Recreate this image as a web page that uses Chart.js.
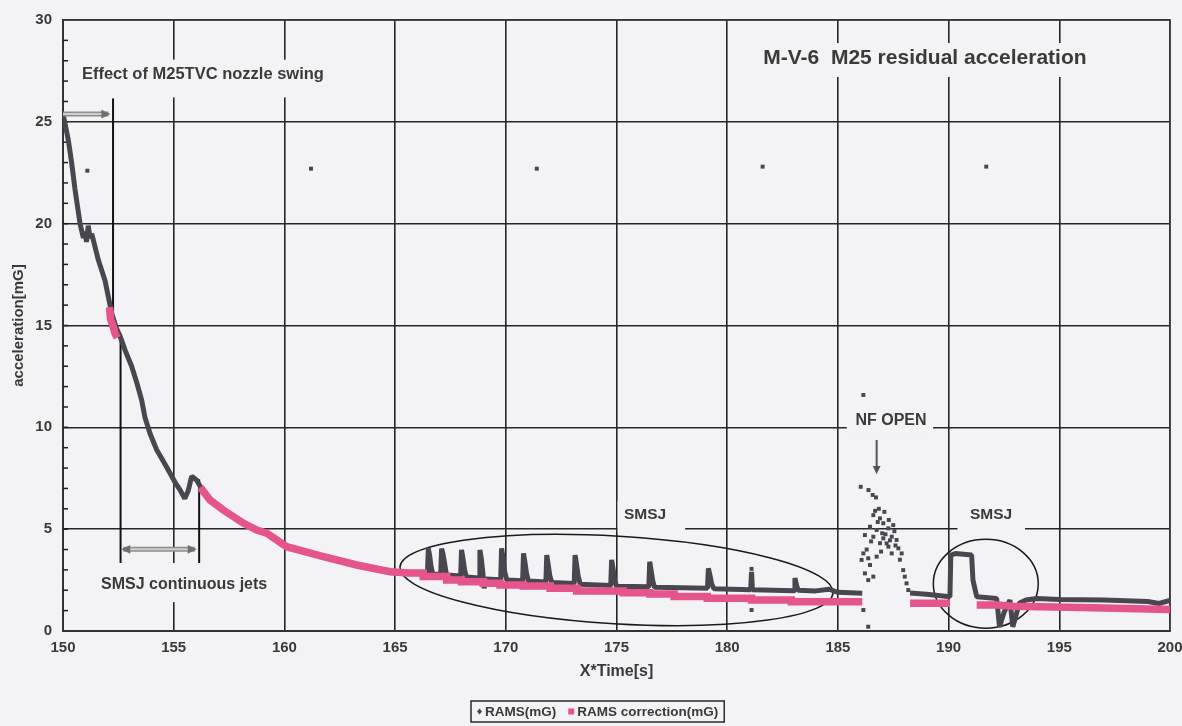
<!DOCTYPE html>
<html>
<head>
<meta charset="utf-8">
<script src="https://cdn.jsdelivr.net/npm/chart.js@4.4.1/dist/chart.umd.min.js"></script>
<style>
  html, body { margin: 0; padding: 0; background: #f3f3f5; }
  canvas { display: block; }
</style>
</head>
<body>
<canvas id="chart" width="1182" height="726"></canvas>
<script>
// RAMS(mG) main trace, null = break in the trace
const ramsTime = [150.02, 150.24, 150.39, 150.54, 150.77, 150.92, 151.0, 151.06, 151.14, 151.22, 151.3, 151.6, 151.9, 152.05,
  152.2, 152.4, 152.57, 152.8, 153.1, 153.33, 153.55, 153.7, 153.93, 154.23, 154.68, 155.06, 155.3, 155.5, 155.66, 155.81,
  156.04, 156.2, 156.64, 157.24, 158.14, 158.75, 159.2, 160.1, 161.76, 163.27, 164.77, 165.6, 166.2,
  166.46, 166.5, 166.56, 166.62, 166.7,
  167.06, 167.1, 167.16, 167.24, 167.32,
  167.96, 168.0, 168.06, 168.14, 168.22,
  168.79, 168.83, 168.9, 168.96, 169.02, 169.1,
  169.77, 169.81, 169.87, 169.95, 170.05,
  170.76, 170.8, 170.86, 170.94, 171.02,
  171.81, 171.85, 171.91, 171.99, 172.08,
  173.09, 173.13, 173.19, 173.27, 173.36,
  174.74, 174.78, 174.84, 174.92, 175.0,
  176.46, 176.5, 176.56, 176.64, 176.72,
  179.11, 179.15, 179.21, 179.3, 179.4,
  181.06, 181.1, 181.14,
  183.02, 183.06, 183.12, 183.2,
  184.0, 184.6, 185.0, 186.1, 186.5,
  188.26, 189.0, 190.06, 190.1, 190.3, 191.04, 191.1, 191.27, 192.17, 192.3, 192.5, 192.77, 192.9, 193.2, 193.5,
  193.98, 195.0, 197.0, 199.0, 199.5, 200.0];
const ramsVal = [25.3, 24.1, 23.0, 21.7, 20.0, 19.3, 19.6, 19.1, 19.9, 19.3, 19.5, 18.2, 17.2, 16.4,
  15.6, 14.9, 14.5, 13.8, 13.0, 12.2, 11.35, 10.5, 9.7, 8.9, 8.05, 7.3, 6.9, 6.5, 6.9, 7.6,
  7.4, 7.1, 6.45, 5.95, 5.3, 4.98, 4.8, 4.15, 3.65, 3.25, 2.95, 2.85, 2.82,
  2.82, 4.05, 3.7, 3.2, 2.8,
  2.78, 4.05, 3.8, 3.3, 2.75,
  2.7, 3.98, 3.6, 3.0, 2.65,
  2.6, 3.98, 3.5, 2.9, 2.1, 2.55,
  2.52, 4.06, 3.6, 2.9, 2.5,
  2.47, 3.81, 3.4, 2.8, 2.45,
  2.4, 3.73, 3.3, 2.7, 2.38,
  2.33, 3.73, 3.3, 2.7, 2.3,
  2.23, 3.49, 3.1, 2.5, 2.2,
  2.17, 3.4, 3.0, 2.45, 2.15,
  2.1, 3.08, 2.8, 2.3, 2.08,
  2.02, 2.9, 2.02,
  1.98, 2.6, 2.3, 2.0,
  1.97, 2.05, 1.9, 1.85, null,
  1.86, 1.8, 1.68, 3.73, 3.8, 3.73, 2.5, 1.68, 1.6, 0.21, 0.9, 1.52, 0.21, 1.37, 1.52,
  1.6, 1.55, 1.52, 1.45, 1.35, 1.5];

// RAMS(mG) single samples (periodic spikes, NF OPEN scatter)
const ramsDotTime = [151.1, 161.2, 171.4, 181.6, 191.7, 181.1, 181.1,
  186.15, 186.03, 186.38, 186.57, 186.72, 186.6, 186.9, 187.05, 186.45, 186.75, 187.28, 186.22, 186.6, 187.05,
  187.43, 187.65, 186.9, 187.28, 187.73, 187.88, 187.43, 186.15, 186.37, 186.07, 186.75, 186.45, 186.22, 186.6,
  186.37, 186.15, 186.37, 187.95, 188.02, 188.1, 188.18, 186.85, 187.1, 187.3, 187.5, 187.0, 186.95, 187.2,
  186.8, 187.15, 187.55, 187.6, 186.5, 186.3, 187.8, 186.68, 187.35];
const ramsDotVal = [22.6, 22.7, 22.7, 22.8, 22.8, 3.05, 1.03,
  11.59, 7.08, 6.92, 6.68, 6.56, 5.69, 5.53, 5.29, 5.12, 4.96, 5.04, 4.71, 4.63, 4.55,
  4.63, 4.47, 4.31, 4.14, 4.06, 3.81, 3.81, 3.81, 3.57, 3.49, 3.65, 3.24, 2.83, 2.67,
  2.5, 1.03, 0.21, 2.99, 2.67, 2.34, 2.01, 6.0, 5.85, 5.45, 5.2, 4.8, 3.9, 4.3,
  5.35, 4.75, 4.9, 4.2, 4.4, 4.0, 3.5, 5.9, 4.45];

// RAMS correction(mG)
const corrTime = [152.1, 152.15, 152.25, 152.35, 152.45, 153.0,
  156.2, 156.64, 157.24, 158.14, 158.75, 159.2, 160.1, 161.76, 163.27, 164.77, 165.6,
  166.27, 166.27, 167.33, 167.33, 168.0, 168.0, 168.98, 168.98, 169.74, 169.74, 170.79, 170.79, 172.0, 172.0,
  173.2, 173.2, 175.3, 175.3, 176.5, 176.5, 177.6, 177.6, 179.1, 179.1, 181.1, 181.1, 182.9, 182.9, 186.1, 186.5,
  188.26, 190.06, 190.5,
  191.27, 192.2, 192.9, 193.5, 196.0, 198.0, 200.0];
const corrVal = [15.9, 15.3, 15.0, 14.6, 14.4, null,
  7.05, 6.43, 5.94, 5.3, 4.96, 4.8, 4.14, 3.65, 3.24, 2.91, 2.85,
  2.85, 2.67, 2.67, 2.5, 2.5, 2.42, 2.42, 2.34, 2.34, 2.26, 2.26, 2.21, 2.21, 2.1,
  2.1, 1.97, 1.97, 1.88, 1.88, 1.82, 1.82, 1.69, 1.69, 1.61, 1.61, 1.52, 1.52, 1.44, 1.44, null,
  1.36, 1.36, null,
  1.28, 1.28, 1.22, 1.2, 1.15, 1.1, 1.05];

const xTicks = [150, 155, 160, 165, 170, 175, 180, 185, 190, 195, 200];
const yTicks = [0, 5, 10, 15, 20, 25, 30];

const BG = '#f3f3f5';
const DARK = '#4a4650';
const PINK = '#e5548b';
const INK = '#3a3a3a';
const FONT = '"Liberation Sans", Arial, sans-serif';

const pts = (xs, ys) => xs.map((t, i) => ({ x: t, y: ys[i] }));

// text labels with the box they blank out of the grid: [text, t, v, size, box t0, t1, v0, v1]
const labels = [
  ['Effect of M25TVC nozzle swing', 156.32, 27.35, 16.5, 150.5, 162.1, 28.05, 26.2],
  ['M-V-6  M25 residual acceleration', 188.93, 28.13, 21, 181.0, 196.85, 28.87, 27.2],
  ['SMSJ continuous jets', 155.47, 2.26, 16, 151.45, 159.6, 3.34, 1.42],
  ['SMSJ', 176.29, 5.69, 15.5, 175.05, 178.1, 6.4, 4.85],
  ['NF OPEN', 187.4, 10.31, 16, 185.4, 189.3, 10.85, 9.62],
  ['SMSJ', 191.92, 5.69, 15.5, 190.4, 193.45, 6.4, 4.85]
];

function arrowHead(ctx, x1, y1, x2, y2, size, color) {
  const a = Math.atan2(y2 - y1, x2 - x1);
  ctx.fillStyle = color;
  ctx.beginPath();
  ctx.moveTo(x2, y2);
  ctx.lineTo(x2 - size * Math.cos(a - 0.45), y2 - size * Math.sin(a - 0.45));
  ctx.lineTo(x2 - size * Math.cos(a + 0.45), y2 - size * Math.sin(a + 0.45));
  ctx.closePath();
  ctx.fill();
}

function grayArrow(ctx, x1, y1, x2, y2, both) {
  ctx.lineCap = 'butt';
  ctx.strokeStyle = '#8c8c8c'; ctx.lineWidth = 5;
  ctx.beginPath(); ctx.moveTo(x1, y1); ctx.lineTo(x2, y2); ctx.stroke();
  ctx.strokeStyle = '#cfcfcf'; ctx.lineWidth = 2;
  ctx.beginPath(); ctx.moveTo(x1, y1); ctx.lineTo(x2, y2); ctx.stroke();
  arrowHead(ctx, x1, y1, x2 + 2, y2, 10, '#6f6f6f');
  if (both) arrowHead(ctx, x2, y2, x1 - 2, y1, 10, '#6f6f6f');
}

const notes = {
  id: 'notes',
  beforeDatasetsDraw(chart) {
    const { ctx, chartArea: a, scales: { x, y } } = chart;
    const X = v => x.getPixelForValue(v), Y = v => y.getPixelForValue(v);
    ctx.save();
    // frame top / right
    ctx.strokeStyle = '#3c3c3c'; ctx.lineWidth = 1.6;
    ctx.strokeRect(a.left, a.top, a.right - a.left, a.bottom - a.top);
    // minor ticks on the value axis
    ctx.strokeStyle = '#1e1e1e'; ctx.lineWidth = 1.5;
    for (let v = 1; v < 30; v++) {
      ctx.beginPath(); ctx.moveTo(a.left, Y(v)); ctx.lineTo(a.left + 5, Y(v)); ctx.stroke();
    }
    // blank the grid behind the labels
    ctx.fillStyle = BG;
    labels.forEach(l => ctx.fillRect(X(l[4]), Y(l[6]), X(l[5]) - X(l[4]), Y(l[7]) - Y(l[6])));
    // marker lines
    ctx.strokeStyle = '#111'; ctx.lineWidth = 2;
    [[152.26, 26.15, 15.5], [152.6, 14.6, 3.34], [156.15, 7.45, 3.34]].forEach(m => {
      ctx.beginPath(); ctx.moveTo(X(m[0]), Y(m[1])); ctx.lineTo(X(m[0]), Y(m[2])); ctx.stroke();
    });
    // ellipses round the SMSJ pulses
    ctx.strokeStyle = '#1a1a1a'; ctx.lineWidth = 1.5;
    const x1 = X(165.22), y1 = Y(3.14), x2 = X(184.78), y2 = Y(1.87);
    ctx.beginPath();
    ctx.ellipse((x1 + x2) / 2, (y1 + y2) / 2, Math.hypot(x2 - x1, y2 - y1) / 2, Y(0) - Y(2.15),
      Math.atan2(y2 - y1, x2 - x1), 0, Math.PI * 2);
    ctx.stroke();
    ctx.beginPath();
    ctx.ellipse(X(191.68), Y(2.32), X(194.05) - X(191.68), Y(0) - Y(2.18), 0, 0, Math.PI * 2);
    ctx.stroke();
    ctx.restore();
  },
  afterDatasetsDraw(chart) {
    const { ctx, scales: { x, y } } = chart;
    const X = v => x.getPixelForValue(v), Y = v => y.getPixelForValue(v);
    ctx.save();
    ctx.fillStyle = INK;
    ctx.textAlign = 'center';
    ctx.textBaseline = 'middle';
    labels.forEach(l => {
      ctx.font = 'bold ' + l[3] + 'px ' + FONT;
      ctx.fillText(l[0], X(l[1]), Y(l[2]));
    });
    grayArrow(ctx, X(150.0), Y(25.38), X(152.05), Y(25.38), false);
    grayArrow(ctx, X(152.72), Y(4.01), X(155.95), Y(4.01), true);
    // NF OPEN arrow
    ctx.strokeStyle = '#555'; ctx.lineWidth = 2;
    ctx.beginPath(); ctx.moveTo(X(186.75), Y(9.38)); ctx.lineTo(X(186.75), Y(7.95)); ctx.stroke();
    arrowHead(ctx, X(186.75), Y(9.38), X(186.75), Y(7.7), 9, '#555');
    ctx.restore();
  },
  afterDraw(chart) {
    const { ctx, chartArea: a } = chart;
    ctx.save();
    ctx.font = 'bold 13.5px ' + FONT;
    ctx.textBaseline = 'middle';
    const t1 = chart.data.datasets[0].label, t2 = chart.data.datasets[1].label;
    const w1 = ctx.measureText(t1).width, w2 = ctx.measureText(t2).width;
    const total = 6 + 8 + w1 + 12 + 9 + w2 + 6;
    const cx = (a.left + a.right) / 2 - 19;
    const left = Math.round(cx - total / 2), top = 701, h = 21, mid = top + h / 2;
    ctx.fillStyle = BG; ctx.fillRect(left, top, total, h);
    ctx.strokeStyle = '#2a2a2a'; ctx.lineWidth = 1.5; ctx.strokeRect(left, top, total, h);
    let px = left + 6;
    ctx.fillStyle = DARK;
    ctx.beginPath(); ctx.moveTo(px + 2.5, mid - 3); ctx.lineTo(px + 5, mid); ctx.lineTo(px + 2.5, mid + 3); ctx.lineTo(px, mid); ctx.fill();
    px += 8;
    ctx.fillStyle = INK; ctx.fillText(t1, px, mid + 1);
    px += w1 + 12;
    ctx.fillStyle = PINK; ctx.fillRect(px, mid - 3, 6, 6);
    px += 9;
    ctx.fillStyle = INK; ctx.fillText(t2, px, mid + 1);
    ctx.restore();
  }
};

new Chart(document.getElementById('chart'), {
  type: 'scatter',
  data: {
    datasets: [
      {
        label: 'RAMS(mG)',
        data: pts(ramsTime, ramsVal),
        showLine: true, spanGaps: false,
        borderColor: DARK, borderWidth: 5, pointRadius: 0,
        borderJoinStyle: 'bevel',
        order: 2
      },
      {
        label: 'RAMS correction(mG)',
        data: pts(corrTime, corrVal),
        showLine: true, spanGaps: false,
        borderColor: PINK, borderWidth: 7.5, pointRadius: 0,
        borderCapStyle: 'butt',
        order: 1
      },
      {
        label: 'RAMS(mG) samples',
        data: pts(ramsDotTime, ramsDotVal),
        showLine: false,
        pointStyle: 'rect', pointRadius: 2.8,
        backgroundColor: DARK, borderColor: DARK, borderWidth: 0,
        order: 3
      }
    ]
  },
  options: {
    responsive: false,
    animation: false,
    layout: { padding: { left: 0, right: 12, top: 20, bottom: 0 } },
    plugins: { legend: { display: false }, tooltip: { enabled: false } },
    scales: {
      x: {
        type: 'linear', min: 150, max: 200,
        afterBuildTicks: s => { s.ticks = xTicks.map(v => ({ value: v })); },
        afterFit: s => { s.height = 95; s.paddingLeft = 0; s.paddingRight = 0; },
        grid: { color: '#262626', lineWidth: 1.6, drawTicks: false },
        border: { color: '#111', width: 2 },
        ticks: { padding: 8, maxRotation: 0, color: INK, font: { family: FONT, size: 15, weight: 'bold' } },
        title: { display: true, text: 'X*Time[s]', color: INK, padding: { top: 0, bottom: 45 },
          font: { family: FONT, size: 16, weight: 'bold' } }
      },
      y: {
        type: 'linear', min: 0, max: 30,
        afterBuildTicks: s => { s.ticks = yTicks.map(v => ({ value: v })); },
        afterFit: s => { s.width = 63; s.paddingTop = 0; s.paddingBottom = 0; },
        grid: { color: '#262626', lineWidth: 1.6, drawTicks: false },
        border: { color: '#111', width: 2 },
        ticks: { padding: 11, color: INK, font: { family: FONT, size: 15, weight: 'bold' } },
        title: { display: true, text: 'acceleration[mG]', color: INK, padding: { top: 10, bottom: 0 },
          font: { family: FONT, size: 15, weight: 'bold' } }
      }
    }
  },
  plugins: [notes]
});
</script>
</body>
</html>
